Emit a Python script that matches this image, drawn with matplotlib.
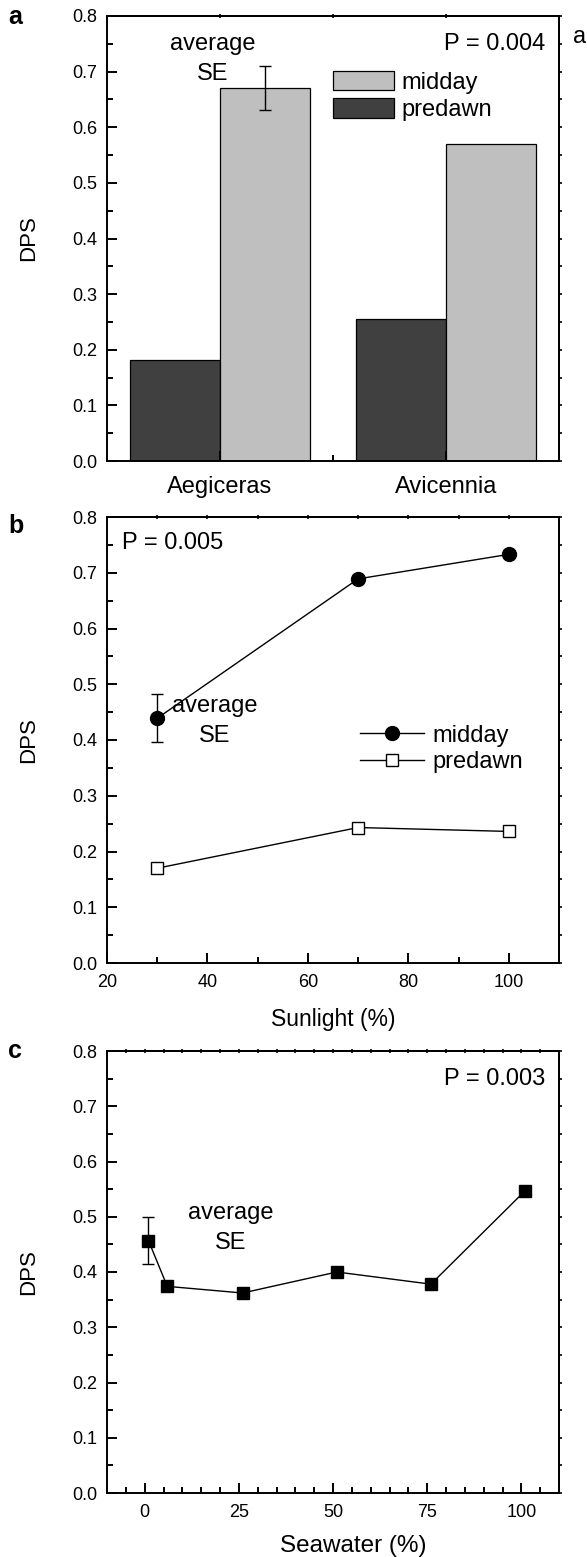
import numpy as np
import matplotlib.pyplot as plt

plt.rcParams['font.family'] = ['Liberation Sans', 'DejaVu Sans']

# panel a: DPS by species
species = ['Aegiceras', 'Avicennia']
predawn_a = [0.181, 0.256]
midday_a = [0.671, 0.569]
se_a = 0.04

# panel b: DPS vs sunlight
sun = [30, 70, 100]
midday_b = [0.439, 0.689, 0.733]
predawn_b = [0.170, 0.243, 0.236]
se_b = 0.043

# panel c: DPS vs seawater
sea = [1, 6, 26, 51, 76, 101]
dps_c = [0.457, 0.374, 0.362, 0.400, 0.378, 0.547]
se_c = 0.043

W, H = 587, 1557
fig = plt.figure(figsize=(W / 100, H / 100), dpi=100)


def box(l, t, r, b):
    # pixel box -> figure fraction
    return [l / W, 1 - b / H, (r - l) / W, (b - t) / H]


ax_a = fig.add_axes(box(107, 16, 559, 461))
ax_b = fig.add_axes(box(107, 517, 559, 963))
ax_c = fig.add_axes(box(107, 1051, 559, 1493))


def style(ax, top_ticks):
    ax.set_ylim(0, 0.8)
    ax.set_yticks(np.arange(0, 0.81, 0.1))
    ax.set_yticks(np.arange(0, 0.81, 0.05), minor=True)
    ax.yaxis.set_major_formatter('{x:.1f}')
    for s in ax.spines.values():
        s.set_linewidth(1.4)
    ax.tick_params(which='both', direction='in', width=1.4, labelsize=13,
                   top=False, right=False)
    ax.tick_params(which='major', length=7.5)
    ax.tick_params(which='minor', length=4.5)
    ax.tick_params(axis='y', pad=7)
    ax.tick_params(axis='x', pad=8)
    sy = ax.secondary_yaxis('right')
    sy.set_yticks(np.arange(0, 0.81, 0.05))
    sy.tick_params(direction='out', length=2.5, width=1.2, labelright=False)
    sy.spines['right'].set_linewidth(1.4)
    sx = ax.secondary_xaxis('top')
    sx.set_xticks(top_ticks)
    sx.tick_params(direction='inout', length=3, width=1.2, labeltop=False)
    sx.spines['top'].set_linewidth(1.4)
    ax.set_ylabel('DPS', fontsize=16)
    ax.yaxis.set_label_coords(-0.15, 0.5)


# ---- a ----
x = np.arange(len(species))
w = 0.4
ax_a.bar(x - w / 2, predawn_a, w, color='#404040', edgecolor='black',
         linewidth=0.9, label='predawn')
ax_a.bar(x + w / 2, midday_a, w, color='#bfbfbf', edgecolor='black',
         linewidth=0.9, label='midday')
ax_a.errorbar(x[0] + w / 2, midday_a[0], yerr=se_a, fmt='none', ecolor='black',
              elinewidth=1, capsize=4, capthick=1)
ax_a.set_xlim(-0.5, 1.5)
style(ax_a, [0, 0.5, 1])
ax_a.set_xticks(x, species, fontsize=17)
ax_a.set_xticks([0.5], minor=True)
ax_a.tick_params(axis='x', pad=11)
h, l = ax_a.get_legend_handles_labels()
ax_a.legend(h[::-1], l[::-1], loc='center left', bbox_to_anchor=(0.499, 0.82),
            frameon=False, fontsize=17, handlelength=2.6, handleheight=0.9,
            handletextpad=0.3, labelspacing=0.2, borderpad=0, borderaxespad=0)
ax_a.text(0.2345, 0.9236, 'average', transform=ax_a.transAxes, ha='center',
          va='baseline', fontsize=17)
ax_a.text(0.2345, 0.856, 'SE', transform=ax_a.transAxes, ha='center',
          va='baseline', fontsize=17)
ax_a.text(0.969, 0.9236, 'P = 0.004', transform=ax_a.transAxes, ha='right',
          va='baseline', fontsize=17)
fig.text(573 / W, 1 - 43 / H, 'a', fontsize=17, va='baseline')

# ---- b ----
ax_b.plot(sun, midday_b, '-o', color='black', lw=1, ms=10, label='midday')
ax_b.plot(sun, predawn_b, '-s', color='black', mfc='white', mec='black', mew=1,
          lw=1, ms=8.5, label='predawn')
ax_b.errorbar(sun[0], midday_b[0], yerr=se_b, fmt='none', ecolor='black',
              elinewidth=1, capsize=4, capthick=1)
ax_b.set_xlim(20, 110)
style(ax_b, np.arange(30, 110, 10))
ax_b.set_xticks(np.arange(20, 101, 20))
ax_b.set_xticks(np.arange(30, 110, 10), minor=True)
ax_b.set_xlabel('Sunlight (%)', fontsize=16.5, labelpad=12)
ax_b.legend(loc='center left', bbox_to_anchor=(0.56, 0.48), frameon=False,
            fontsize=17, handlelength=2.7, handletextpad=0.35, labelspacing=0.2,
            borderpad=0, borderaxespad=0)
ax_b.text(0.0325, 0.929, 'P = 0.005', transform=ax_b.transAxes, ha='left',
          va='baseline', fontsize=17)
ax_b.text(0.239, 0.563, 'average', transform=ax_b.transAxes, ha='center',
          va='baseline', fontsize=17)
ax_b.text(0.239, 0.496, 'SE', transform=ax_b.transAxes, ha='center',
          va='baseline', fontsize=17)

# ---- c ----
ax_c.plot(sea, dps_c, '-s', color='black', lw=1, ms=8.5)
ax_c.errorbar(sea[0], dps_c[0], yerr=se_c, fmt='none', ecolor='black',
              elinewidth=1, capsize=4, capthick=1)
ax_c.set_xlim(-10, 110)
style(ax_c, np.arange(-5, 110, 5))
ax_c.set_xticks(np.arange(0, 101, 25))
ax_c.set_xticks(np.arange(-5, 110, 5), minor=True)
ax_c.set_xlabel('Seawater (%)', fontsize=17.5)
ax_c.xaxis.set_label_coords(0.544, -0.095)
ax_c.text(0.969, 0.923, 'P = 0.003', transform=ax_c.transAxes, ha='right',
          va='baseline', fontsize=17)
ax_c.text(0.274, 0.620, 'average', transform=ax_c.transAxes, ha='center',
          va='baseline', fontsize=17)
ax_c.text(0.274, 0.551, 'SE', transform=ax_c.transAxes, ha='center',
          va='baseline', fontsize=17)

# panel letters
for lab, yb in [('a', 24), ('b', 533), ('c', 1058)]:
    fig.text(8 / W, 1 - yb / H, lab, fontsize=18, fontweight='bold', va='baseline')

fig.savefig('out.png', dpi=100)
